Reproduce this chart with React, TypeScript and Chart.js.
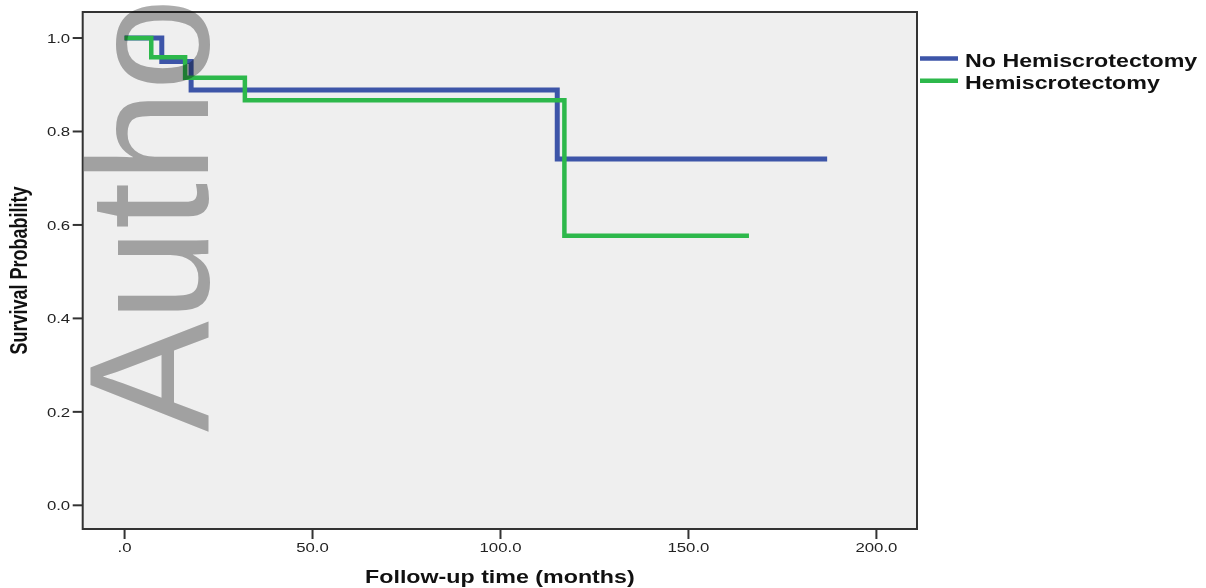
import React, { useEffect, useRef } from "react";
import { Chart, registerables } from "chart.js";

Chart.register(...registerables);

// ---- Data ----
const noHemiTimes = [0, 9.9, 17.7, 115.1, 186.9];
const noHemiSurv = [1.0, 0.95, 0.889, 0.741, 0.741];
const hemiTimes = [0, 7.1, 16.1, 32.0, 117.0, 166.1];
const hemiSurv = [1.0, 0.959, 0.915, 0.867, 0.577, 0.577];

const seriesNames = ["No Hemiscrotectomy", "Hemiscrotectomy"];
const xTicks = [0, 50, 100, 150, 200];
const xTickLabels = [".0", "50.0", "100.0", "150.0", "200.0"];
const yTicks = [0, 0.2, 0.4, 0.6, 0.8, 1.0];
const yTickLabels = ["0.0", "0.2", "0.4", "0.6", "0.8", "1.0"];
const xTitle = "Follow-up time (months)";
const yTitle = "Survival Probability";
const watermark = "Autho";

const BLUE = "#3d55a8";
const GREEN = "#2db84b";
const STRETCH = 1.29;

function stretchedText(
  ctx: CanvasRenderingContext2D,
  text: string,
  x: number,
  y: number,
  align: CanvasTextAlign,
  font: string,
  rotate = 0,
  sx = STRETCH
) {
  ctx.save();
  ctx.translate(x, y);
  ctx.scale(sx, 1);
  if (rotate) ctx.rotate(rotate);
  ctx.font = font;
  ctx.textAlign = align;
  ctx.textBaseline = "alphabetic";
  ctx.fillText(text, 0, 0);
  ctx.restore();
}

const decorPlugin = {
  id: "decor",
  beforeDraw(chart: any) {
    const { ctx, chartArea: a } = chart;
    ctx.save();
    ctx.fillStyle = "#ffffff";
    ctx.fillRect(0, 0, chart.width, chart.height);
    ctx.fillStyle = "#efefef";
    ctx.fillRect(a.left, a.top, a.right - a.left, a.bottom - a.top);
    ctx.restore();
  },
  afterDatasetsDraw(chart: any) {
    const { ctx, chartArea: a, scales } = chart;
    const xs = scales.x;
    const ys = scales.y;
    ctx.save();
    // border
    ctx.strokeStyle = "#333333";
    ctx.lineWidth = 2;
    ctx.strokeRect(a.left, a.top, a.right - a.left, a.bottom - a.top);
    // y ticks
    ctx.fillStyle = "#222222";
    yTicks.forEach((v, i) => {
      const py = ys.getPixelForValue(v);
      ctx.beginPath();
      ctx.moveTo(a.left - 10, py);
      ctx.lineTo(a.left, py);
      ctx.stroke();
      stretchedText(ctx, yTickLabels[i], a.left - 12.5, py + 4.7, "right", "13px 'Liberation Sans', Arial, sans-serif");
    });
    // x ticks
    xTicks.forEach((v, i) => {
      const px = xs.getPixelForValue(v);
      ctx.beginPath();
      ctx.moveTo(px, a.bottom);
      ctx.lineTo(px, a.bottom + 10);
      ctx.stroke();
      stretchedText(ctx, xTickLabels[i], px, a.bottom + 22.7, "center", "13px 'Liberation Sans', Arial, sans-serif");
    });
    // axis titles
    ctx.fillStyle = "#111111";
    stretchedText(ctx, xTitle, (a.left + a.right) / 2, 583.3, "center", "bold 18px 'Liberation Sans', Arial, sans-serif");
    stretchedText(ctx, yTitle, 26.7, (a.top + a.bottom) / 2, "center", "bold 18px 'Liberation Sans', Arial, sans-serif", -Math.PI / 2);
    // legend
    const legendColors = [BLUE, GREEN];
    const legendY = [58.5, 80.7];
    const legendBase = [66.6, 89.2];
    seriesNames.forEach((name, i) => {
      ctx.strokeStyle = legendColors[i];
      ctx.lineWidth = 4.5;
      ctx.beginPath();
      ctx.moveTo(920, legendY[i]);
      ctx.lineTo(958, legendY[i]);
      ctx.stroke();
      ctx.fillStyle = "#111111";
      stretchedText(ctx, name, 965, legendBase[i], "left", "bold 18px 'Liberation Sans', Arial, sans-serif");
    });
    ctx.restore();
  },
  afterDraw(chart: any) {
    const { ctx } = chart;
    ctx.save();
    ctx.globalCompositeOperation = "multiply";
    ctx.fillStyle = "rgb(172,172,172)";
    stretchedText(ctx, watermark, 208, 432, "left", "166px 'Liberation Sans', Arial, sans-serif", -Math.PI / 2, 1.03);
    ctx.restore();
  },
};

export default function App() {
  const ref = useRef<HTMLCanvasElement | null>(null);
  useEffect(() => {
    if (!ref.current) return;
    const chart = new Chart(ref.current, {
      type: "line",
      data: {
        datasets: [
          {
            label: seriesNames[0],
            data: noHemiTimes.map((t, i) => ({ x: t, y: noHemiSurv[i] })),
            borderColor: BLUE,
            borderWidth: 5,
            stepped: "before",
            pointRadius: 0,
            fill: false,
            borderJoinStyle: "miter",
            borderCapStyle: "butt",
            order: 1,
          },
          {
            label: seriesNames[1],
            data: hemiTimes.map((t, i) => ({ x: t, y: hemiSurv[i] })),
            borderColor: GREEN,
            borderWidth: 4.5,
            stepped: "before",
            pointRadius: 0,
            fill: false,
            borderJoinStyle: "miter",
            borderCapStyle: "butt",
            order: 0,
          },
        ],
      },
      options: {
        animation: false,
        responsive: false,
        maintainAspectRatio: false,
        layout: { padding: { top: 12, right: 289, left: 0, bottom: 0 } },
        plugins: { legend: { display: false }, tooltip: { enabled: false } },
        scales: {
          x: {
            type: "linear",
            min: -11.14,
            max: 210.8,
            ticks: { display: false },
            grid: { display: false },
            border: { display: false },
            afterFit: (s: any) => {
              s.height = 59;
            },
          },
          y: {
            type: "linear",
            min: -0.0507,
            max: 1.0557,
            ticks: { display: false },
            grid: { display: false },
            border: { display: false },
            afterFit: (s: any) => {
              s.width = 82.7;
            },
          },
        },
      },
      plugins: [decorPlugin],
    } as any);
    return () => chart.destroy();
  }, []);
  return (
    <div style={{ position: "fixed", left: 0, top: 0, width: 1206, height: 588, background: "#fff" }}>
      <canvas ref={ref} width={1206} height={588} style={{ width: 1206, height: 588, display: "block" }} />
    </div>
  );
}
